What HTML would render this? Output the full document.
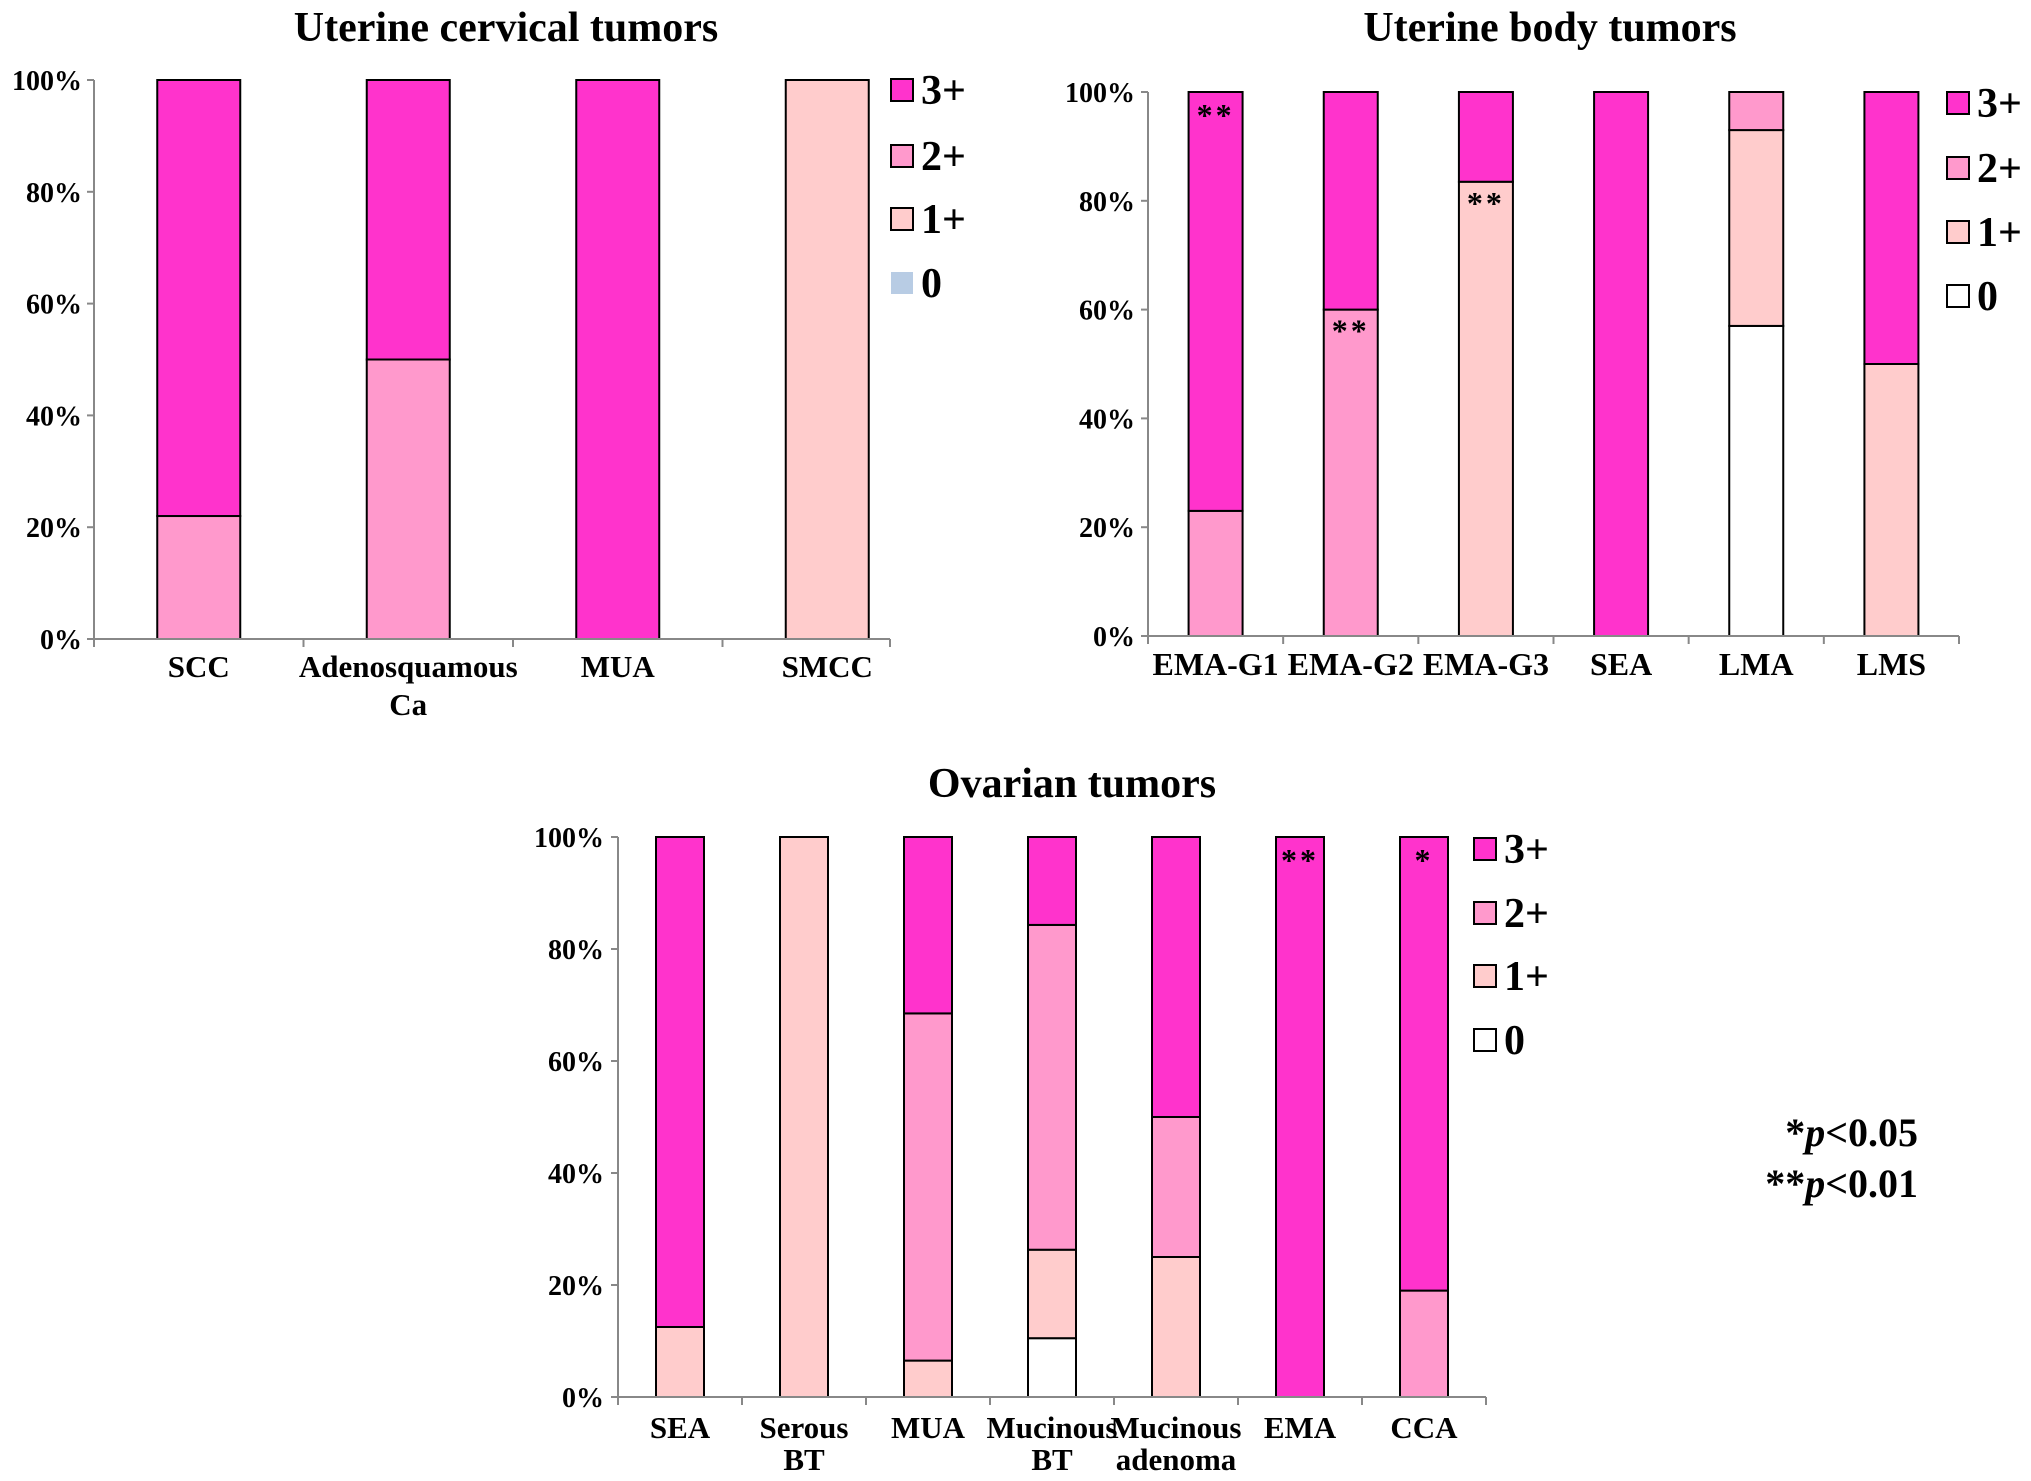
<!DOCTYPE html>
<html><head><meta charset="utf-8"><style>
html,body{margin:0;padding:0;background:#fff;}
svg{display:block;}
text{font-family:"Liberation Serif",serif;font-weight:bold;fill:#000;}
</style></head><body>
<svg id="fig" width="2031" height="1481" viewBox="0 0 2031 1481" xmlns="http://www.w3.org/2000/svg">
<text x="506" y="41" font-size="42" text-anchor="middle">Uterine cervical tumors</text>
<text x="1550" y="41" font-size="42" text-anchor="middle">Uterine body tumors</text>
<text x="1072" y="797" font-size="42" text-anchor="middle">Ovarian tumors</text>
<text x="1918" y="1146" font-size="40" text-anchor="end">*<tspan font-style="italic">p</tspan>&lt;0.05</text>
<text x="1918" y="1197" font-size="40" text-anchor="end">**<tspan font-style="italic">p</tspan>&lt;0.01</text>
</svg>
<script>
// Chart 1: Uterine cervical tumors
const c1Categories = [["SCC"],["Adenosquamous","Ca"],["MUA"],["SMCC"]];
const c1Zero = [0,0,0,0];
const c1One = [0,0,0,100];
const c1Two = [22,50,0,0];
const c1Three = [78,50,100,0];
const c1Marks = ["","","",""];
// Chart 2: Uterine body tumors
const c2Categories = [["EMA-G1"],["EMA-G2"],["EMA-G3"],["SEA"],["LMA"],["LMS"]];
const c2Zero = [0,0,0,0,57,0];
const c2One = [0,0,83.5,0,36,50];
const c2Two = [23,60,0,0,7,0];
const c2Three = [77,40,16.5,100,0,50];
const c2Marks = ["**","**","**","","",""];
// Chart 3: Ovarian tumors
const c3Categories = [["SEA"],["Serous","BT"],["MUA"],["Mucinous","BT"],["Mucinous","adenoma"],["EMA"],["CCA"]];
const c3Zero = [0,0,0,10.5,0,0,0];
const c3One = [12.5,100,6.5,15.8,25,0,0];
const c3Two = [0,0,62,58,25,0,19];
const c3Three = [87.5,0,31.5,15.7,50,100,81];
const c3Marks = ["","","","","","**","*"];
const yTicks = ["0%","20%","40%","60%","80%","100%"];
const legendLabels = ["3+","2+","1+","0"];

const NS="http://www.w3.org/2000/svg";
const svg=document.getElementById('fig');
const COLORS=["#ffffff","#ffcccc","#ff99cc","#ff33cc"];
function el(tag,attrs,parent){const e=document.createElementNS(NS,tag);for(const k in attrs)e.setAttribute(k,attrs[k]);(parent||svg).appendChild(e);return e;}

function drawChart(id,cfg,cats,series,marks){
  const g=el('g',{});
  
  
  const n=cats.length;
  const cw=(cfg.x1-cfg.x0)/n;
  const yS=v=>cfg.y0-(cfg.y0-cfg.y100)*v/100;
  const xC=i=>cfg.x0+cw*(i+0.5);
  const ya=el('line',{x1:cfg.x0,y1:cfg.y100,x2:cfg.x0,y2:cfg.y0,stroke:'#888','stroke-width':2},g);
  
  
  yTicks.forEach((t,i)=>{
    const v=i*20, y=yS(v);
    el('line',{x1:cfg.x0-7,y1:y,x2:cfg.x0,y2:y,stroke:'#888','stroke-width':2},g);
    const tx=el('text',{x:cfg.tickX,y:y+10,'font-size':28,'text-anchor':'end'},g);
    tx.textContent=t;
    
    
  });
  cats.forEach((c,i)=>{
    let base=0;
    const x=xC(i)-cfg.bw/2;
    series.forEach((s,k)=>{
      const v=s[i]; if(v<=0) return;
      const r=el('rect',{x:x,y:yS(base+v),width:cfg.bw,height:yS(base)-yS(base+v),fill:COLORS[k],stroke:'#000','stroke-width':2},g);
      
      
      base+=v;
    });
    if(marks[i]){
      const top=series[0][i]+series[1][i]+series[2][i]+series[3][i];
      let mY;
      if(cfg.markAt && cfg.markAt[i]==='below'){ let b=0; for(let k=0;k<3;k++) b+=series[k][i]; mY=yS(b)+32; }
      else mY=yS(top)+34;
      const m=el('text',{x:xC(i),y:mY,'font-size':32,'text-anchor':'middle',fill:'#333','letter-spacing':3},g);
      m.textContent=marks[i];
      
      
    }
  });
  const xa=el('line',{x1:cfg.x0,y1:cfg.y0,x2:cfg.axisEnd||cfg.x1,y2:cfg.y0,stroke:'#888','stroke-width':2},g);
  
  
  for(let i=0;i<=n;i++){
    const tx=Math.min(cfg.x0+cw*i, cfg.axisEnd||cfg.x1);
    el('line',{x1:tx,y1:cfg.y0,x2:tx,y2:cfg.y0+8,stroke:'#888','stroke-width':2},g);
  }
  cats.forEach((c,i)=>{
    c.forEach((line,j)=>{
      const t=el('text',{x:xC(i),y:cfg.labelY+j*cfg.lineH,'font-size':cfg.catFont,'text-anchor':'middle'},g);
      t.textContent=line;
      
      
    });
  });
  legendLabels.forEach((lab,k)=>{
    const y=cfg.legY[k];
    const fill = (k===3 && cfg.zeroBlue) ? '#b8cce4' : COLORS[3-k];
    const stroke = (k===3 && cfg.zeroBlue) ? 'none' : '#000';
    const r=el('rect',{x:cfg.legX,y:y-11,width:22,height:22,fill:fill,stroke:stroke,'stroke-width':2},g);
    
    
    const t=el('text',{x:cfg.legX+30,y:y+14,'font-size':42},g);
    t.textContent=lab;
    
    
  });
}

drawChart('cervical',{x0:94,x1:932,axisEnd:890,y0:639,y100:80,bw:83,tickX:82,labelY:677,lineH:38,catFont:31,legX:891,legY:[90,156,219,283],zeroBlue:true},
  c1Categories,[c1Zero,c1One,c1Two,c1Three],c1Marks);
drawChart('body',{x0:1148,x1:1959,y0:636,y100:92,bw:54,tickX:1135,labelY:675,lineH:38,catFont:32,legX:1947,legY:[103,168,232,296],markAt:['top','below','below','top','top','top']},
  c2Categories,[c2Zero,c2One,c2Two,c2Three],c2Marks);
drawChart('ovarian',{x0:618,x1:1486,y0:1397,y100:837,bw:48,tickX:604,labelY:1438,lineH:32,catFont:31,legX:1474,legY:[849,913,976,1040]},
  c3Categories,[c3Zero,c3One,c3Two,c3Three],c3Marks);
</script>
</body></html>
